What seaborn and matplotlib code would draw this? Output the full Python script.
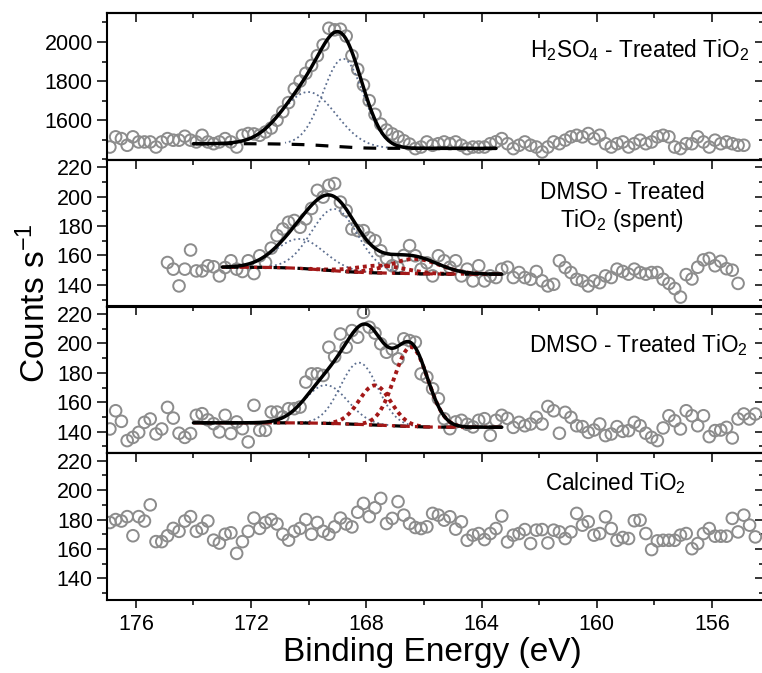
import numpy as np
import pandas as pd
import matplotlib
matplotlib.use("Agg")
import matplotlib.pyplot as plt
import seaborn as sns
from matplotlib.ticker import MultipleLocator

# ------------------------------------------------------------------ data
E_STEP = 0.2  # eV between measured points

# H2SO4 - treated TiO2
h2so4_start = 176.9
h2so4_counts = [
    1463, 1515, 1506, 1472, 1515, 1489, 1489, 1489, 1463, 1489, 1506, 1498, 1498, 1518, 1498, 1489,
    1523, 1489, 1480, 1489, 1506, 1489, 1463,
    1523, 1532, 1530, 1523, 1540, 1560, 1600, 1643, 1690, 1760, 1800, 1840, 1880, 1930, 1985, 2070,
    2062, 2065, 2030, 1930, 1860, 1780, 1700, 1630, 1580, 1550, 1530, 1515, 1495, 1478, 1455,
    1463, 1489, 1472, 1480, 1489, 1480, 1489, 1472, 1455, 1463, 1463, 1463, 1480, 1490, 1506, 1480,
    1455, 1472, 1489, 1472, 1463, 1438, 1463, 1489, 1480, 1498, 1515, 1523, 1515, 1532, 1506, 1523,
    1480, 1463, 1480, 1489, 1463, 1480, 1498, 1480, 1489, 1515, 1523, 1515, 1463, 1455, 1480, 1480,
    1515, 1489, 1463, 1498, 1480, 1489, 1480, 1472, 1472]

# DMSO - treated TiO2 (spent)
spent_start = 174.9
spent_counts = [
    155.2, 150.7, 139.3, 150.7, 163.7, 149.5, 149.5, 153.0, 152.3, 146.1, 151.8, 156.4, 150.7, 149.1,
    156.4, 147.7, 159.8,
    155.3, 165.0, 173.5, 178.0, 182.6, 183.8, 179.2, 184.9, 192.0, 204.3, 199.7, 207.7, 208.9, 196.3,
    190.6, 178.0, 176.9, 176.9, 172.0, 170.1, 163.2, 158.0, 153.0, 151.8, 160.0, 166.7, 159.8, 150.7,
    155.0, 146.1, 159.8, 156.4, 152.0, 156.4, 146.1, 150.7, 142.7, 153.0, 142.7, 146.1, 145.0, 150.7,
    152.0,
    145.0, 148.4, 145.0, 143.8, 149.1, 142.7, 139.3, 140.4, 156.4, 151.8, 148.4, 143.8, 142.7, 139.3,
    142.7, 141.5, 146.1, 145.0, 150.7, 149.1, 147.3, 150.7, 148.4, 147.3, 148.4, 148.4, 143.8, 141.0,
    137.5, 131.7, 147.0, 144.0, 152.0, 157.0, 158.0, 153.0, 156.0, 151.0, 150.0, 141.0]

# DMSO - treated TiO2
dmso_start = 176.9
dmso_counts = [
    141.8, 154.2, 147.0, 133.9, 136.1, 139.5, 146.3, 148.6, 138.4, 141.8, 156.5, 149.2, 138.9, 136.1,
    138.7, 151.1, 152.2, 148.0, 145.4, 139.8, 151.1, 138.7, 146.6, 142.0, 133.0, 157.9, 140.9, 140.9,
    153.3, 153.3, 150.0, 155.6, 155.6, 156.7, 173.7, 179.3, 179.3, 178.2, 197.4, 191.0, 206.4, 197.4,
    208.7, 204.2, 221.1, 211.0, 207.0, 199.7, 194.0, 196.0, 189.5, 203.1, 201.9, 200.8, 179.3, 177.1,
    169.2, 162.4, 148.8, 142.0, 146.6, 147.7, 145.0, 143.2, 147.7, 148.8, 137.5, 147.7, 151.1, 149.0,
    142.9, 146.3, 144.0, 145.2, 149.7, 145.2, 157.1, 154.2, 138.9, 153.1, 149.7, 144.0, 143.4, 139.5,
    141.1, 145.2, 137.3, 138.4, 143.4, 140.2, 140.7, 146.3, 144.0, 138.9, 136.1, 133.9, 142.5, 150.8,
    147.4, 141.8, 154.2, 150.8, 144.0, 150.8, 136.6, 140.7, 141.1, 142.9, 135.7, 148.6, 152.0, 148.6,
    152.0]

# Calcined TiO2
calc_start = 176.9
calc_counts = [
    178, 180, 179, 182, 169, 182, 179, 190, 165, 165, 169, 174, 172, 179, 182, 172, 174, 179, 166,
    164, 170, 171, 157, 165, 172, 181, 174, 178, 180, 177, 170, 166, 172, 174, 180, 170, 178, 172,
    170, 175, 181, 177, 175, 185, 191, 182, 188,
    194.4, 177.3, 180.8, 192.2, 183.0, 177.3, 174.6, 173.9, 175.1, 184.2, 183.0, 179.6, 181.9, 173.5,
    178.5, 165.9, 169.4, 170.5, 166.4, 170.5, 173.9, 182.4, 164.8, 169.4, 170.5, 173.2, 163.7, 172.8,
    173.2, 164.1, 172.8, 171.6, 167.1, 171.6, 184.2, 176.2, 178.5, 169.4, 170.5, 181.9, 173.9, 165.9,
    167.8, 167.1, 179.2, 179.6, 170.5, 159.6, 165.5, 165.9, 165.9, 165.9, 169.4, 170.5, 160.2, 163.7,
    170.5, 173.9, 168.7, 168.7, 168.7, 180.8, 171.6, 183.0, 176.2, 168.2]

panel_labels = ["H$_2$SO$_4$ - Treated TiO$_2$",
                "DMSO - Treated\nTiO$_2$ (spent)",
                "DMSO - Treated TiO$_2$",
                "Calcined TiO$_2$"]

# Gaussian fit components: centre (eV), height (counts/s), sigma (eV), species
h2so4_fit_centers = [168.8, 170.0]
h2so4_fit_heights = [450, 270]
h2so4_fit_sigmas = [0.70, 0.95]
h2so4_fit_species = ["sulfate", "sulfate"]
h2so4_fit_range = (174.0, 163.5)
h2so4_bg = (1480, 1456)          # background at high / low BE end

spent_fit_centers = [169.1, 170.3, 166.3, 167.5]
spent_fit_heights = [42, 20, 10, 5]
spent_fit_sigmas = [0.80, 0.85, 0.85, 0.85]
spent_fit_species = ["sulfate", "sulfate", "sulfoxide", "sulfoxide"]
spent_fit_range = (173.0, 163.3)
spent_bg = (152.0, 147.3)

dmso_fit_centers = [169.4, 168.25, 167.7, 166.45]
dmso_fit_heights = [26, 42, 27, 54]
dmso_fit_sigmas = [0.75, 0.65, 0.55, 0.58]
dmso_fit_species = ["sulfate", "sulfate", "sulfoxide", "sulfoxide"]
dmso_fit_range = (174.0, 163.3)
dmso_bg = (146.0, 143.0)

# ------------------------------------------------------------------ style
sns.set_theme(style="ticks")
plt.rcParams["font.family"] = ["Liberation Sans", "DejaVu Sans"]
plt.rcParams["mathtext.fontset"] = "custom"
plt.rcParams["mathtext.rm"] = "Liberation Sans"
plt.rcParams["mathtext.it"] = "Liberation Sans"
plt.rcParams["mathtext.default"] = "regular"
plt.rcParams["axes.linewidth"] = 1.5
for key in ["text.color", "axes.labelcolor", "xtick.color", "ytick.color",
            "axes.edgecolor", "xtick.labelcolor", "ytick.labelcolor"]:
    plt.rcParams[key] = "black"

PT_COLOR = "#8c8c8c"
BLUE = "#5d6f90"
RED = "#a31818"
TICK_FS = 15.5
LABEL_FS = 16.3

fig = plt.figure(figsize=(7.62, 6.73), dpi=100)
gs = fig.add_gridspec(4, 1, left=107 / 762, right=764 / 762,
                      top=1 - 13 / 673, bottom=1 - 600 / 673, hspace=0)
axes = [fig.add_subplot(gs[i]) for i in range(4)]


def gauss(x, c, h, s):
    return h * np.exp(-(x - c) ** 2 / (2 * s ** 2))


def draw_fit(ax, centers, heights, sigmas, species, frange, bg):
    x = np.arange(frange[1], frange[0] + 1e-9, 0.02)   # ascending energy
    comps = [gauss(x, c, h, s) for c, h, s in zip(centers, heights, sigmas)]
    total = np.sum(comps, axis=0)
    cum = np.cumsum(total)
    cum = cum / cum[-1]
    base = bg[1] + (bg[0] - bg[1]) * cum          # Shirley-type step
    for comp, h, sp in zip(comps, heights, species):
        y = np.where(comp > 0.015 * h, base + comp, np.nan)
        if sp == "sulfate":
            sns.lineplot(x=x, y=y, ax=ax, color=BLUE, lw=1.3, linestyle=(0, (1, 1.6)),
                         estimator=None, sort=False, zorder=3)
        else:
            sns.lineplot(x=x, y=y, ax=ax, color=RED, lw=2.8, linestyle=(0, (1, 1)),
                         estimator=None, sort=False, zorder=4)
    sns.lineplot(x=x, y=base, ax=ax, color="black", lw=2.3, linestyle=(0, (4, 3.5)),
                 estimator=None, sort=False, zorder=4)
    if any(sp != "sulfate" for sp in species):
        sns.lineplot(x=x, y=base, ax=ax, color=RED, lw=2.3, linestyle=(0, (3, 1.6, 1, 1.6)),
                     estimator=None, sort=False, zorder=5)
    sns.lineplot(x=x, y=base + total, ax=ax, color="black", lw=2.5,
                 estimator=None, sort=False, zorder=6)


datasets = [(h2so4_start, h2so4_counts), (spent_start, spent_counts),
            (dmso_start, dmso_counts), (calc_start, calc_counts)]
fits = [(h2so4_fit_centers, h2so4_fit_heights, h2so4_fit_sigmas, h2so4_fit_species,
         h2so4_fit_range, h2so4_bg),
        (spent_fit_centers, spent_fit_heights, spent_fit_sigmas, spent_fit_species,
         spent_fit_range, spent_bg),
        (dmso_fit_centers, dmso_fit_heights, dmso_fit_sigmas, dmso_fit_species,
         dmso_fit_range, dmso_bg),
        None]

for ax, (start, counts), fit in zip(axes, datasets, fits):
    energy = start - E_STEP * np.arange(len(counts))
    df = pd.DataFrame({"energy": energy, "counts": counts})
    sns.scatterplot(data=df, x="energy", y="counts", ax=ax, marker="o", s=70,
                    facecolors="none", edgecolor=PT_COLOR, linewidth=1.4, zorder=2)
    if fit is not None:
        draw_fit(ax, *fit)
    ax.set_xlabel("")
    ax.set_ylabel("")
    ax.set_xlim(177.0, 154.2)

# y limits / ticks
axes[0].set_ylim(1398, 2148)
axes[0].set_yticks([1600, 1800, 2000])
axes[0].yaxis.set_minor_locator(MultipleLocator(100))
for ax in axes[1:]:
    ax.set_ylim(125.3, 225.1)
    ax.set_yticks([140, 160, 180, 200, 220])
    ax.yaxis.set_minor_locator(MultipleLocator(10))

for k, ax in enumerate(axes):
    for sp in ax.spines.values():
        sp.set_linewidth(1.5)
        sp.set_visible(True)
        sp.set_color("black")
    ax.xaxis.set_major_locator(MultipleLocator(4))
    ax.xaxis.set_minor_locator(MultipleLocator(2))
    ax.tick_params(axis="y", which="major", direction="out", length=7.2, width=1.1,
                   labelsize=TICK_FS, pad=3, left=True, right=False)
    ax.tick_params(axis="y", which="minor", direction="out", length=3.6, width=1.1,
                   left=True, right=False)
    last = (k == 3)
    ax.tick_params(axis="x", which="major", direction="out", length=6.0, width=1.1,
                   labelsize=TICK_FS, pad=4, bottom=last, labelbottom=last, top=False)
    ax.tick_params(axis="x", which="minor", direction="out", length=3.6, width=1.1,
                   bottom=last, top=False)
    # inward ticks on top and right
    secx = ax.secondary_xaxis("top")
    secx.xaxis.set_major_locator(MultipleLocator(4))
    secx.xaxis.set_minor_locator(MultipleLocator(2))
    secx.tick_params(axis="x", which="major", direction="in", length=6.5, width=1.1,
                     labeltop=False)
    secx.tick_params(axis="x", which="minor", direction="in", length=3.6, width=1.1)
    secx.spines["top"].set_linewidth(1.5)
    secy = ax.secondary_yaxis("right")
    secy.yaxis.set_major_locator(ax.yaxis.get_major_locator())
    secy.yaxis.set_minor_locator(ax.yaxis.get_minor_locator())
    secy.tick_params(axis="y", which="major", direction="in", length=6.5, width=1.1,
                     labelright=False)
    secy.tick_params(axis="y", which="minor", direction="in", length=3.6, width=1.1)
    secy.spines["right"].set_linewidth(1.5)

# panel annotations
axes[0].text(0.978, 0.745, panel_labels[0], transform=axes[0].transAxes,
             ha="right", va="center", fontsize=LABEL_FS)
axes[1].text(0.784, 0.675, panel_labels[1], transform=axes[1].transAxes,
             ha="center", va="center", fontsize=LABEL_FS, multialignment="center",
             linespacing=1.15)
axes[2].text(0.976, 0.735, panel_labels[2], transform=axes[2].transAxes,
             ha="right", va="center", fontsize=LABEL_FS)
axes[3].text(0.774, 0.80, panel_labels[3], transform=axes[3].transAxes,
             ha="center", va="center", fontsize=LABEL_FS)

fig.text(35 / 762, 1 - 303 / 673, "Counts s$^{-1}$", rotation=90,
         ha="center", va="center", fontsize=24)
fig.text(432 / 762, 1 - 652 / 673, "Binding Energy (eV)",
         ha="center", va="center", fontsize=24)

fig.savefig("out.png", dpi=100)
